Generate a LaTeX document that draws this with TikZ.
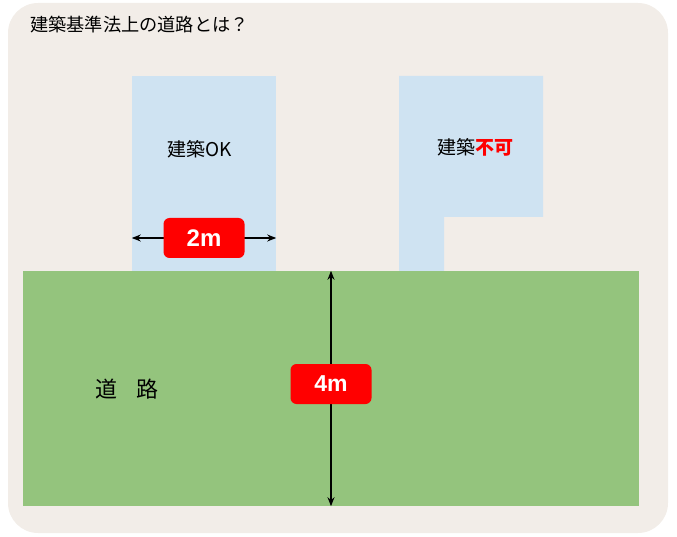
\documentclass[tikz,border=0pt]{standalone}
\usepackage{fontspec}
\setmainfont{Noto Sans CJK JP}
\newfontfamily\latinfont{Liberation Sans}
\usepackage{tikz}
\usetikzlibrary{positioning, calc, arrows.meta}
\definecolor{paper}{rgb}{0.95, 0.93, 0.91}
\definecolor{lotblue}{rgb}{0.81, 0.89, 0.95}
\definecolor{roadgreen}{rgb}{0.58, 0.77, 0.49}
\definecolor{signred}{rgb}{1.0, 0.0, 0.0}

\begin{document}
\begin{tikzpicture}[x=1pt, y=-1pt]
	\tikzstyle{lot}=[draw=none, fill=lotblue, minimum width=144pt, minimum height=196pt, inner sep=0pt]
	\tikzstyle{road}=[draw=none, fill=roadgreen, minimum width=616pt, minimum height=235pt, inner sep=0pt]
	\tikzstyle{tag}=[fill=signred, rounded corners=6pt, minimum width=81pt, minimum height=40pt, text=white, font=\latinfont\bfseries\fontsize{23}{23}\selectfont, inner sep=0pt]
	\tikzstyle{measure}=[black, line width=1.4pt, {Stealth[length=9pt, width=7pt]}-{Stealth[length=9pt, width=7pt]}]
	
	\useasboundingbox (0,0) rectangle (677,537);
	\fill[paper, rounded corners=30pt] (8,3) rectangle (668,533);
	\node[anchor=west, inner sep=0pt, font=\fontsize{18.2}{18.2}\selectfont] (title) at (30,25) {建築基準法上の道路とは？};
	
	%% building lots
	\node[lot] (ok) at (204,174) {};
	\fill[lotblue] (399,76) -- (543,76) -- (543,217) -- (444,217) -- (444,272) -- (399,272) -- cycle;
	\coordinate (ng) at (475.5,147);
	\node[font=\fontsize{19}{19}\selectfont] (oktext) at (199.5,149) {建築OK};
	\node[font=\fontsize{19}{19}\selectfont] (ngtext) at (ng) {建築{\bfseries\color{signred}不可}};
	
	%% road
	\node[road] (R) at (331,388.5) {};
	\node[font=\fontsize{22}{22}\selectfont] (roadtext) at (127,389) {道\hspace{0.85em}路};
	
	\draw[measure] (ok.west |- 0,238) -- (ok.east |- 0,238);
	\node[tag, font=\latinfont\bfseries\fontsize{24}{24}\selectfont] (w2) at (204,238) {2m};
	
	\draw[measure] (R.north) -- (R.south);
	\node[tag] (w4) at (331,384) {4m};
\end{tikzpicture}
\end{document}
